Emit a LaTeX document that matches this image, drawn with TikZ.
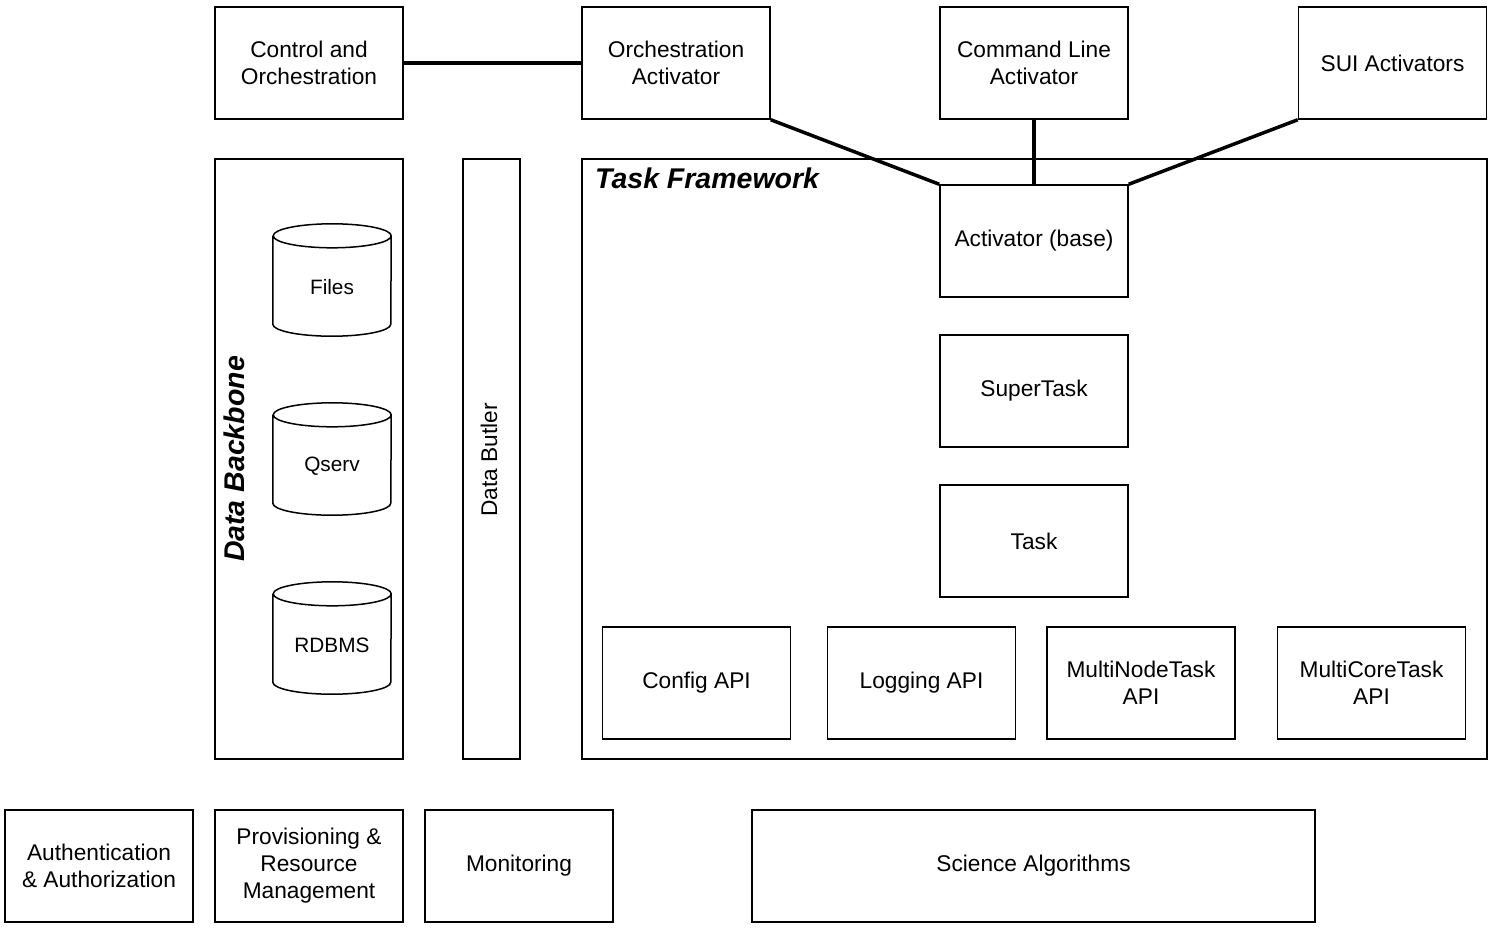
\documentclass[tikz,border=0pt]{standalone}
\usepackage{fontspec}
\setmainfont{Liberation Sans}
\begin{document}
\begin{tikzpicture}[x=1pt,y=-1pt,
  box/.style={draw, line width=1.5pt, fill=white, minimum width=188pt, minimum height=112pt, inner sep=0pt, align=center, font=\fontsize{22.7}{27}\selectfont},
  cyl/.style={minimum width=118pt, minimum height=112pt, inner sep=0pt},
  cyltext/.style={inner sep=0pt, font=\fontsize{20.8}{25}\selectfont},
  cylline/.style={line width=1.5pt},
  conn/.style={line width=3.5pt},
  biglabel/.style={font=\fontsize{28.5}{32}\selectfont\bfseries\itshape, inner sep=0pt}]
\useasboundingbox (0,0) rectangle (1489,927);
\fill[white] (0,0) rectangle (1489,927);

% top row
\node[box] (ctrl) at (309,63) {Control and\\Orchestration};
\node[box] (orch) at (676,63) {Orchestration\\Activator};
\node[box] (cmd) at (1034,63) {Command Line\\Activator};
\node[box] (sui) at (1392.5,63) {SUI Activators};

% containers
\node[box, minimum width=188pt, minimum height=600pt] (backbone) at (309,459) {};
\node[box, minimum width=57pt, minimum height=600pt] (butler) at (491.5,459) {};
\node[rotate=90] (butlerlbl) at (489,460) {\fontsize{22.7}{27}\selectfont Data Butler};
\node[biglabel, rotate=90] (backlbl) at (234,459) {Data Backbone};
\node[box, minimum width=905pt, minimum height=600pt] (tf) at (1034.5,459) {};
\node[biglabel, anchor=base west] (tflbl) at (595,188) {Task Framework};

% task framework contents
\node[box] (actb) at (1034,241) {Activator (base)};
\node[box] (super) at (1034,391) {SuperTask};
\node[box] (task) at (1034,541) {Task};
\node[box] (config) at (696.5,683) {Config API};
\node[box] (logging) at (921.5,683) {Logging API};
\node[box] (mnt) at (1141,683) {MultiNodeTask\\API};
\node[box] (mct) at (1371.5,683) {MultiCoreTask\\API};

% cylinders
\foreach \n/\t/\y in {files/Files/280, qserv/Qserv/459, rdbms/RDBMS/638} {
  \node[cyl] (\n) at (332,\y) {};
  \node[cyltext] (\n-lbl) at ([yshift=-7pt]\n.center) {\t};
  \draw[cylline] ([yshift=-12pt]\n.north west) -- ([yshift=12pt]\n.south west)
     arc[start angle=180, end angle=360, x radius=59pt, y radius=12pt]
     -- ([yshift=-12pt]\n.north east)
     arc[start angle=0, end angle=180, x radius=59pt, y radius=12pt]
     arc[start angle=180, end angle=360, x radius=59pt, y radius=12pt];
}

% bottom row
\node[box] (auth) at (99,866) {Authentication\\\& Authorization};
\node[box] (prov) at (309,866) {Provisioning \&\\Resource\\Management};
\node[box] (mon) at (519,866) {Monitoring};
\node[box, minimum width=563pt] (sci) at (1033.5,866) {Science Algorithms};

% connectors
\draw[conn] (ctrl.east) -- (orch.west);
\draw[conn] (orch.south east) -- (actb.north west);
\draw[conn] (cmd.south) -- (actb.north);
\draw[conn] (sui.south west) -- (actb.north east);
\end{tikzpicture}
\end{document}
